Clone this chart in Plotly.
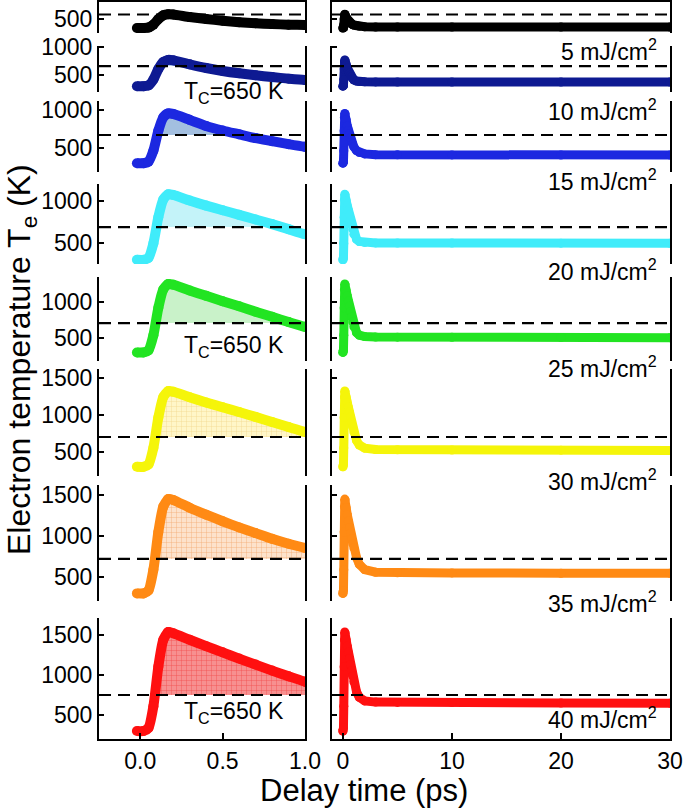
import numpy as np
import plotly.graph_objects as go

W, H = 685, 810

# ---------------- data ----------------
time_ps = [-0.02, 0.02, 0.05, 0.08, 0.11, 0.14, 0.17, 0.20, 0.30, 0.40, 0.50, 0.60,
           0.70, 0.80, 0.90, 1.00, 1.25, 1.50, 2.0, 3.0, 5.0, 10.0, 20.0, 30.0]

fluence_labels = ["5", "10", "15", "20", "25", "30", "35", "40"]

Te_5 = [300, 300, 309, 376, 498, 581, 605, 600, 545, 500, 462, 430, 405, 387, 375, 367,
        350, 338, 328, 323, 322, 322, 320, 320]
Te_10 = [300, 300, 314, 418, 606, 732, 770, 762, 690, 625, 572, 530, 495, 463, 435, 412,
         393, 384, 378, 376, 375, 375, 374, 373]
Te_15 = [300, 300, 320, 464, 726, 903, 955, 948, 870, 790, 730, 680, 630, 590, 550, 515,
         465, 440, 422, 412, 410, 409, 407, 406]
Te_20 = [300, 300, 323, 495, 807, 1018, 1080, 1072, 1005, 945, 890, 835, 780, 725, 665, 605,
         545, 518, 505, 501, 500, 500, 498, 497]
Te_25 = [300, 300, 329, 538, 918, 1174, 1250, 1240, 1160, 1085, 1010, 940, 865, 795, 722, 655,
         575, 540, 520, 513, 512, 510, 507, 505]
Te_30 = [300, 300, 331, 556, 966, 1242, 1324, 1315, 1240, 1170, 1105, 1040, 975, 905, 838, 772,
         655, 595, 552, 533, 530, 528, 525, 522]
Te_35 = [300, 300, 335, 588, 1048, 1358, 1450, 1440, 1345, 1260, 1180, 1105, 1035, 965, 905, 855,
         735, 655, 590, 558, 552, 550, 546, 545]
Te_40 = [300, 300, 337, 609, 1104, 1438, 1537, 1522, 1440, 1360, 1283, 1205, 1130, 1055, 985, 916,
         790, 722, 676, 661, 657, 655, 650, 648]

series = [Te_5, Te_10, Te_15, Te_20, Te_25, Te_30, Te_35, Te_40]

# dashed reference (T_C) level drawn in each panel
dash_level = [600, 660, 671, 690, 708, 703, 720, 750]

# y tick values per panel
yticks = [[500], [500, 1000], [500, 1000], [500, 1000], [500, 1000],
          [500, 1000, 1500], [500, 1000, 1500], [500, 1000, 1500]]

left_xticks = [0.0, 0.5, 1.0]
left_xticktext = ["0.0", "0.5", "1.0"]
right_xticks = [0, 10, 20, 30]
right_xticktext = ["0", "10", "20", "30"]

# ---------------- styling / layout ----------------
line_colors = ["#000000", "#0e1a92", "#1c28e0", "#40ecfa", "#22e422", "#f5f50a", "#ff8a14", "#ff1010"]
fill_bg = [None, "#b3cbe8", "#a3bfe0", "#c4f3f9", "#c9f2c9", "#fff6c8", "#fde2cb", "#f79090"]
fill_fg = [None, None, None, None, None, "#f3d98c", "#f3a870", "#f24848"]

panel_top = [2, 46, 101, 184, 277, 369, 485, 618]
panel_bot = [33, 92, 172, 264, 361, 476, 601, 739]
y_ranges = [[189, 878], [196, 1018], [184, 1118], [250, 1202], [181, 1347],
            [176, 1622], [207, 1622], [200, 1712]]

left_dom = [99 / W, 305 / W]
right_dom = [332 / W, 670 / W]
left_range = [-0.25, 1.0]
right_range = [-1.0, 30.0]

FONT = "Liberation Sans, Arial, sans-serif"
TICKFONT = dict(family=FONT, size=23, color="black")

fig = go.Figure()
layout = dict(
    template="none",
    width=W, height=H, autosize=False,
    margin=dict(l=0, r=0, t=0, b=0, pad=0, autoexpand=False),
    paper_bgcolor="white", plot_bgcolor="white",
    showlegend=False,
    font=dict(family=FONT, color="black"),
)
shapes = []
annotations = []

for r in range(8):
    Te = np.array(series[r])
    dl = dash_level[r]
    for c in range(2):
        k = 2 * r + c + 1
        xa = "x" if k == 1 else f"x{k}"
        ya = "y" if k == 1 else f"y{k}"
        xkey = "xaxis" if k == 1 else f"xaxis{k}"
        ykey = "yaxis" if k == 1 else f"yaxis{k}"

        xdict = dict(
            domain=left_dom if c == 0 else right_dom,
            range=left_range if c == 0 else right_range,
            anchor=ya, showgrid=False, zeroline=False, automargin=False,
            showline=False, ticks="", showticklabels=False,
            linecolor="black", linewidth=2,
        )
        if r == 0:
            xdict.update(side="top", showline=True)
        if r == 7:
            xdict.update(
                showline=True, ticks="inside", ticklen=6, tickwidth=2, tickcolor="black",
                showticklabels=True, tickfont=TICKFONT,
                tickvals=left_xticks if c == 0 else right_xticks,
                ticktext=left_xticktext if c == 0 else right_xticktext,
            )
        layout[xkey] = xdict

        layout[ykey] = dict(
            domain=[1 - panel_bot[r] / H, 1 - panel_top[r] / H],
            range=y_ranges[r], anchor=xa, automargin=False,
            showgrid=False, zeroline=False,
            showline=True, mirror=True, linecolor="black", linewidth=2,
            ticks="inside", ticklen=5, tickwidth=2, tickcolor="black",
            tickvals=yticks[r], showticklabels=(c == 0), tickfont=TICKFONT,
        )

        # shaded area above T_C (left column only)
        if c == 0 and fill_bg[r] is not None:
            fig.add_trace(go.Scatter(
                x=time_ps, y=[dl] * len(time_ps), xaxis=xa, yaxis=ya,
                mode="lines", line=dict(width=0, color="rgba(0,0,0,0)"),
                hoverinfo="skip"))
            top = np.maximum(Te, dl)
            ftr = dict(
                x=time_ps, y=top.tolist(), xaxis=xa, yaxis=ya,
                mode="lines", line=dict(width=0, color="rgba(0,0,0,0)"),
                fill="tonexty", fillcolor=fill_bg[r], hoverinfo="skip")
            if fill_fg[r] is not None:
                ftr["fillpattern"] = dict(shape="+", size=5, solidity=0.15,
                                          fgcolor=fill_fg[r], bgcolor=fill_bg[r])
            fig.add_trace(go.Scatter(**ftr))

        # temperature curve
        fig.add_trace(go.Scatter(
            x=time_ps, y=series[r], xaxis=xa, yaxis=ya,
            mode="lines+markers",
            line=dict(color=line_colors[r], width=10 if c == 0 else 9,
                      shape="spline" if c == 0 else "linear", smoothing=0.6),
            marker=dict(color=line_colors[r], size=10 if c == 0 else 9),
            hoverinfo="skip"))

        # dashed T_C line
        shapes.append(dict(
            type="line", xref=f"{xa} domain", yref=ya, x0=0, x1=1, y0=dl, y1=dl,
            line=dict(color="black", width=2.2, dash="12px,7px"), layer="above"))

# fluence labels (right column)
label_y = [50, 110, 180, 270, 367, 480, 602, 718]
for r in range(8):
    annotations.append(dict(
        text=f"{fluence_labels[r]} mJ/cm<sup>2</sup>", xref="paper", yref="paper",
        x=659 / W, y=1 - label_y[r] / H, xanchor="right", yanchor="middle",
        showarrow=False, font=dict(family=FONT, size=23, color="black")))

# T_C annotations (left column)
for r, yy in [(1, 92), (4, 346), (7, 712)]:
    annotations.append(dict(
        text="T<sub>C</sub>=650 K", xref="paper", yref="paper",
        x=182 / W, y=1 - yy / H, xanchor="left", yanchor="middle",
        showarrow=False, font=dict(family=FONT, size=23, color="black")))

# axis titles
annotations.append(dict(
    text="Delay time (ps)", xref="paper", yref="paper",
    x=364 / W, y=1 - 790 / H, xanchor="center", yanchor="middle",
    showarrow=False, font=dict(family=FONT, size=31, color="black")))
annotations.append(dict(
    text="Electron temperature T<sub>e</sub> (K)", xref="paper", yref="paper",
    x=21 / W, y=1 - 360 / H, xanchor="center", yanchor="middle", textangle=-90,
    showarrow=False, font=dict(family=FONT, size=32, color="black")))

layout["shapes"] = shapes
layout["annotations"] = annotations
fig.update_layout(**layout)

fig.write_html(
    "out.html",
    config={"displayModeBar": False, "staticPlot": True},
    post_script="document.body.style.margin='0px';document.body.style.overflow='hidden';",
)
